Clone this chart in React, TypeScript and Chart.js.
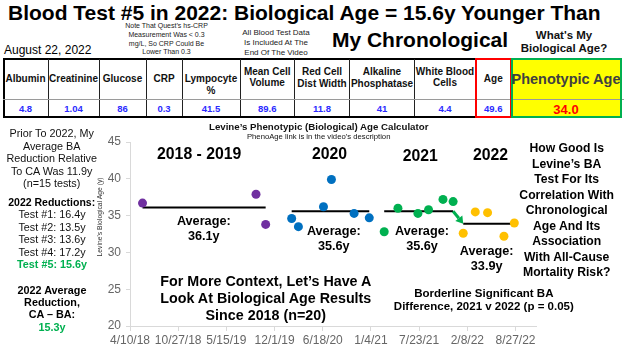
import React, { useEffect, useRef } from 'react';
import { Chart, registerables } from 'chart.js';

Chart.register(...registerables);

const FONT = '"Liberation Sans", Arial, Helvetica, sans-serif';

// ---------- data ----------
const purpleDates = ['6/1/18', '9/15/19', '10/25/19'];
const purpleValues = [36.7, 37.9, 33.8];
const blueDates = ['2/10/20', '3/9/20', '6/21/20', '7/24/20', '10/26/20', '12/28/20'];
const blueValues = [34.6, 33.5, 36.2, 39.9, 35.3, 34.7];
const greenDates = ['2/28/21', '4/26/21', '7/18/21', '8/31/21', '10/30/21', '12/11/21'];
const greenValues = [32.8, 36.0, 35.3, 35.8, 37.2, 36.9];
const yellowDates = ['1/22/22', '3/13/22', '5/3/22', '7/10/22', '8/22/22'];
const yellowValues = [32.6, 35.5, 35.4, 32.2, 34.0];

const groupDates = [purpleDates, blueDates, greenDates, yellowDates];
const groupValues = [purpleValues, blueValues, greenValues, yellowValues];
const groupColors = ['#7030a0', '#0070c0', '#00b050', '#ffc000'];
const groupAverages = [36.1, 35.6, 35.6, 33.9];
const yearLabels = ['2018 - 2019', '2020', '2021', '2022'];

const xTickDates = ['4/10/18', '10/27/18', '5/15/19', '12/1/19', '6/18/20', '1/4/21', '7/23/21', '2/8/22', '8/27/22'];
const xMaxDays = 1685;
const yMin = 20;
const yMax = 45;
const yStep = 5;

const tableHeaders = [
  ['Albumin'], ['Creatinine'], ['Glucose'], ['CRP'], ['Lympocyte', '%'],
  ['Mean Cell', 'Volume'], ['Red Cell', 'Dist Width'], ['Alkaline', 'Phosphatase'],
  ['White Blood', 'Cells'], ['Age'],
];
const tableValues = ['4.8', '1.04', '86', '0.3', '41.5', '89.6', '11.8', '41', '4.4', '49.6'];
const phenotypicAge = '34.0';

// ---------- helpers ----------
const DAY = 86400000;
const parseDate = (s: string) => {
  const [m, d, y] = s.split('/').map(Number);
  return Date.UTC(2000 + y, m - 1, d);
};
const BASE = parseDate(xTickDates[0]);
const toDay = (s: string) => Math.round((parseDate(s) - BASE) / DAY);
const fmt = (v: number) => {
  const dt = new Date(BASE + v * DAY);
  return `${dt.getUTCMonth() + 1}/${dt.getUTCDate()}/${String(dt.getUTCFullYear()).slice(2)}`;
};

const colEdges = [3, 48, 99, 146, 182, 240, 294.5, 349.5, 414.5, 475.5, 511, 621];

function T(props: {
  x: number; y: number; lines: string[]; size: number; bold?: boolean;
  color?: string; align?: 'center' | 'left'; lh?: number;
}) {
  const { x, y, lines, size, bold, color = '#000', align = 'center', lh } = props;
  const tx = align === 'center' ? '-50%' : '0';
  return (
    <div
      style={{
        position: 'absolute', left: x, top: y,
        transform: `translate(${tx},-50%)`,
        fontSize: size, fontWeight: bold ? 700 : 400, color,
        lineHeight: `${lh ?? size}px`, textAlign: align, whiteSpace: 'nowrap',
        fontFamily: FONT,
      }}
    >
      {lines.map((l, i) => <div key={i}>{l}</div>)}
    </div>
  );
}

function Box(props: { l: number; t: number; w: number; h: number; style?: any }) {
  return (
    <div style={{ position: 'absolute', left: props.l, top: props.t, width: props.w, height: props.h, boxSizing: 'border-box', ...props.style }} />
  );
}

const arrowPlugin = {
  id: 'arrow2122',
  afterDatasetsDraw(chart: any) {
    const xs = chart.scales.x;
    const ys = chart.scales.y;
    const x1 = xs.getPixelForValue(toDay(greenDates[greenDates.length - 1]));
    const y1 = ys.getPixelForValue(groupAverages[2]);
    const x2 = xs.getPixelForValue(toDay(yellowDates[0]));
    const y2 = ys.getPixelForValue(groupAverages[3]);
    const ctx = chart.ctx;
    const ang = Math.atan2(y2 - y1, x2 - x1);
    const head = 7;
    const sx = x2 - Math.cos(ang) * head;
    const sy = y2 - Math.sin(ang) * head;
    ctx.save();
    ctx.strokeStyle = '#00b050';
    ctx.fillStyle = '#00b050';
    ctx.lineWidth = 3;
    ctx.beginPath();
    ctx.moveTo(x1, y1);
    ctx.lineTo(sx, sy);
    ctx.stroke();
    ctx.beginPath();
    ctx.moveTo(x2, y2);
    ctx.lineTo(sx + Math.cos(ang + Math.PI / 2) * 4.5, sy + Math.sin(ang + Math.PI / 2) * 4.5);
    ctx.lineTo(sx + Math.cos(ang - Math.PI / 2) * 4.5, sy + Math.sin(ang - Math.PI / 2) * 4.5);
    ctx.closePath();
    ctx.fill();
    ctx.restore();
  },
};

export default function App() {
  const ref = useRef<HTMLCanvasElement | null>(null);

  useEffect(() => {
    if (!ref.current) return;
    const lineSets = groupDates.map((dates, i) => ({
      data: [
        { x: toDay(dates[0]), y: groupAverages[i] },
        { x: toDay(dates[dates.length - 1]), y: groupAverages[i] },
      ],
      showLine: true,
      borderColor: '#000',
      borderWidth: 2,
      pointRadius: 0,
      order: 2,
    }));
    const pointSets = groupDates.map((dates, i) => ({
      data: dates.map((d, j) => ({ x: toDay(d), y: groupValues[i][j] })),
      backgroundColor: groupColors[i],
      borderWidth: 0,
      pointRadius: 4.5,
      order: 1,
    }));
    const chart = new Chart(ref.current, {
      type: 'scatter',
      data: { datasets: [...lineSets, ...pointSets] as any },
      options: {
        responsive: false,
        animation: false,
        events: [],
        layout: { padding: { left: 90, right: 88, top: 142, bottom: 0 } },
        plugins: { legend: { display: false }, tooltip: { enabled: false }, title: { display: false } },
        scales: {
          x: {
            type: 'linear',
            min: 0,
            max: xMaxDays,
            ticks: {
              color: '#666',
              font: { family: FONT, size: 12 },
              callback: (v: any) => fmt(Number(v)),
              maxRotation: 0,
              autoSkip: false,
              padding: 2,
            },
            afterBuildTicks: (s: any) => {
              s.ticks = xTickDates.map((d) => ({ value: toDay(d) }));
            },
            afterFit: (s: any) => { s.height = 25; },
            grid: { drawOnChartArea: false, color: '#d9d9d9', tickLength: 5 },
            border: { color: '#d9d9d9', width: 1 },
          },
          y: {
            min: yMin,
            max: yMax,
            ticks: { stepSize: yStep, color: '#666', font: { family: FONT, size: 12 }, padding: 5 },
            afterFit: (s: any) => { s.width = 40; },
            grid: { drawOnChartArea: false, color: '#d9d9d9', tickLength: 4 },
            border: { color: '#d9d9d9', width: 1 },
          },
        },
      } as any,
      plugins: [arrowPlugin],
    });
    return () => chart.destroy();
  }, []);

  const centers = colEdges.slice(0, -1).map((e, i) => (e + colEdges[i + 1]) / 2);
  const headerY = [78.5, 78.5, 78.5, 78.5, 85, 77.5, 78, 78, 77.7, 79];

  return (
    <div style={{ position: 'absolute', left: 0, top: 0, width: 624, height: 351, background: '#fff', overflow: 'hidden', fontFamily: FONT }}>
      {/* table */}
      <Box l={475.5} t={58} w={146} h={59.5} style={{ background: '#ffff00' }} />
      <Box l={475.5} t={58} w={36} h={59.5} style={{ background: '#fff' }} />
      <Box l={3} t={58} w={473} h={59.5} style={{ borderTop: '2px solid #000', borderBottom: '2px solid #000', borderLeft: '2px solid #000' }} />
      {colEdges.slice(1, 9).map((e, i) => (
        <Box key={i} l={e - 0.5} t={59} w={1} h={57} style={{ background: '#222' }} />
      ))}
      <Box l={3} t={98.5} w={621} h={1} style={{ background: '#9a9a9a' }} />
      <Box l={475} t={58} w={37} h={59.5} style={{ border: '2px solid #ff0000' }} />
      <Box l={511} t={58} w={111} h={59.5} style={{ border: '2px solid #00b050' }} />
      {tableHeaders.map((h, i) => (
        <T key={'h' + i} x={centers[i]} y={headerY[i]} lines={h} size={10} bold lh={11.7} color="#111" />
      ))}
      {tableValues.map((v, i) => (
        <T key={'v' + i} x={centers[i]} y={109} lines={[v]} size={9.5} bold color="#2a2aff" />
      ))}
      <T x={566} y={79} lines={['Phenotypic Age']} size={14.5} bold color="#404040" />
      <T x={566} y={108.5} lines={[phenotypicAge]} size={13} bold color="#ff0000" />

      {/* titles & notes */}
      <T x={8} y={11.5} align="left" lines={['Blood Test #5 in 2022: Biological Age = 15.6y Younger Than']} size={21} bold />
      <T x={420} y={38.5} lines={['My Chronological']} size={21} bold />
      <T x={4} y={49.5} align="left" lines={['August 22, 2022']} size={12} />
      <T x={166.5} y={39.2} lines={['Note That Quest\u2019s hs-CRP', 'Measurement Was < 0.3', 'mg/L, So CRP Could Be', 'Lower Than 0.3']} size={7} lh={8.75} color="#222" />
      <T x={276} y={43.3} lines={['All Blood Test Data', 'Is Included At The', 'End Of The Video']} size={8} lh={10} color="#222" />
      <T x={564} y={41.7} lines={["What's My", 'Biological Age?']} size={11.5} bold lh={13.3} color="#111" />

      {/* chart */}
      <canvas ref={ref} width={624} height={351} style={{ position: 'absolute', left: 0, top: 0, width: 624, height: 351 }} />

      <T x={318.7} y={126.7} lines={['Levine\u2019s Phenotypic (Biological) Age Calculator']} size={9.7} bold color="#111" />
      <T x={318.7} y={136.7} lines={['PhenoAge link is in the video\u2019s description']} size={7.7} color="#111" />
      <div style={{ position: 'absolute', left: 99.3, top: 216.7, transform: 'translate(-50%,-50%) rotate(-90deg)', fontSize: 6.8, color: '#333', whiteSpace: 'nowrap', fontFamily: FONT }}>
        Levine&apos;s Biological Age (y)
      </div>

      <T x={199.2} y={154.3} lines={[yearLabels[0]]} size={15.8} bold />
      <T x={329.5} y={154.3} lines={[yearLabels[1]]} size={15.8} bold />
      <T x={420.3} y={155.7} lines={[yearLabels[2]]} size={15.8} bold />
      <T x={490.5} y={155} lines={[yearLabels[3]]} size={15.8} bold />

      <T x={203.8} y={229.2} lines={['Average:', `${groupAverages[0].toFixed(1)}y`]} size={12.7} bold lh={15} />
      <T x={333.8} y={238.5} lines={['Average:', `${groupAverages[1].toFixed(1)}y`]} size={12.7} bold lh={15} />
      <T x={422} y={238.5} lines={['Average:', `${groupAverages[2].toFixed(1)}y`]} size={12.7} bold lh={15} />
      <T x={486.7} y={259.2} lines={['Average:', `${groupAverages[3].toFixed(1)}y`]} size={12.7} bold lh={15} />

      <T x={265.8} y={298.3} lines={['For More Context, Let\u2019s Have A', 'Look At Biological Age Results', 'Since 2018 (n=20)']} size={14.3} bold lh={16.7} />
      <T x={483.8} y={300} lines={['Borderline Significant BA', 'Difference, 2021 v 2022 (p = 0.05)']} size={11.5} bold lh={13.4} />

      {/* left sidebar */}
      <T x={51.7} y={158.3} lines={['Prior To 2022, My', 'Average BA', 'Reduction Relative', 'To CA Was 11.9y', '(n=15 tests)']} size={10.8} lh={12.5} color="#111" />
      <T x={51.7} y={201.7} lines={['2022 Reductions:']} size={10.5} bold />
      <T x={52} y={233.2} lines={['Test #1: 16.4y', 'Test #2: 13.5y', 'Test #3: 13.6y', 'Test #4: 17.2y']} size={10.8} lh={12.6} color="#111" />
      <T x={52} y={264.3} lines={['Test #5: 15.6y']} size={10.8} bold color="#00b050" />
      <T x={52} y={302} lines={['2022 Average', 'Reduction,', 'CA \u2013 BA:']} size={10.8} bold lh={12.2} />
      <T x={52} y={327.3} lines={['15.3y']} size={10.8} bold color="#00b050" />

      {/* right sidebar */}
      <T x={566.7} y={211.2} lines={['How Good Is', 'Levine\u2019s BA', 'Test For Its', 'Correlation With', 'Chronological', 'Age And Its', 'Association', 'With All-Cause', 'Mortality Risk?']} size={12.2} bold lh={15.5} />
    </div>
  );
}
